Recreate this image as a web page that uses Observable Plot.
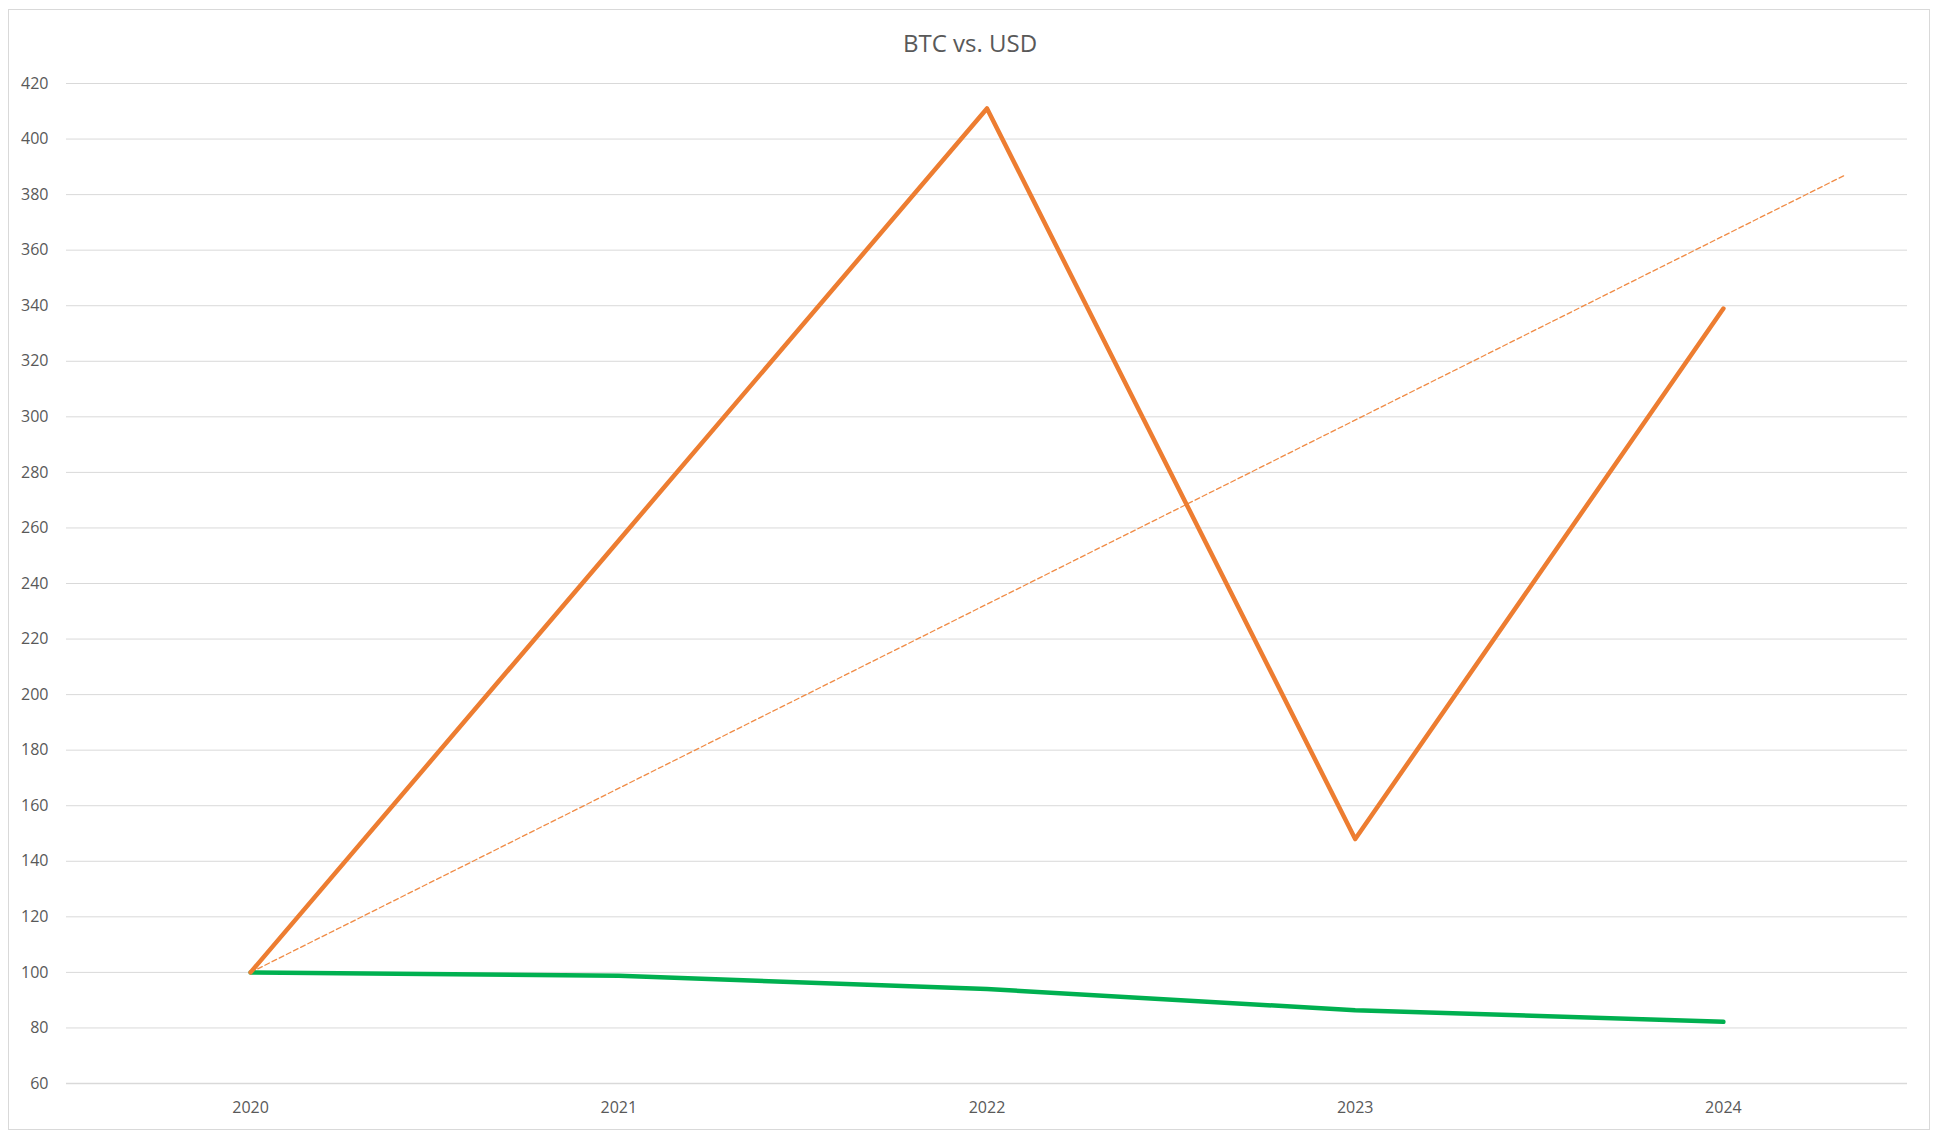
<!DOCTYPE html>
<html>
<head>
<meta charset="utf-8">
<script src="https://cdn.jsdelivr.net/npm/d3@7"></script>
<script src="https://cdn.jsdelivr.net/npm/@observablehq/plot@0.6"></script>
<style>
  html, body { margin: 0; padding: 0; background: #fff; }
  #frame { position: absolute; left: 8px; top: 9px; width: 1920px; height: 1119px; border: 1.5px solid #d9d9d9; box-sizing: content-box; }
  #title { position: absolute; left: 0; top: 28px; width: 1940px; text-align: center; font-family: "Open Sans", sans-serif; font-size: 24px; color: #595959; line-height: 30px; }
  #chart { position: absolute; left: 0; top: 65px; }
</style>
</head>
<body>
<div id="frame"></div>
<div id="title">BTC vs. USD</div>
<div id="chart"></div>
<script>
const years = [2020, 2021, 2022, 2023, 2024];
const btc = [100, 255.5, 411, 148, 339];
const usd = [100, 98.8, 94.0, 86.4, 82.2];
const trendYears = [2020, 2024.33];
const trendValues = [100, 387];
const yTicks = [60, 80, 100, 120, 140, 160, 180, 200, 220, 240, 260, 280, 300, 320, 340, 360, 380, 400, 420];

const btcData = years.map((y, i) => ({year: y, value: btc[i]}));
const usdData = years.map((y, i) => ({year: y, value: usd[i]}));
const trendData = trendYears.map((y, i) => ({year: y, value: trendValues[i]}));

const chart = Plot.plot({
  width: 1940,
  height: 1060,
  marginTop: 18,
  marginBottom: 42,
  marginLeft: 66,
  marginRight: 33,
  style: {fontFamily: "'Open Sans', sans-serif", fontSize: "16px", color: "#595959", background: "transparent"},
  x: {domain: [2019.5, 2024.5], ticks: years, tickFormat: d => String(d), tickSize: 0, tickPadding: 18, label: null},
  y: {domain: [60, 420], ticks: yTicks, tickSize: 0, tickPadding: 18, label: null},
  marks: [
    Plot.gridY(yTicks.filter(t => t > 60), {stroke: "#d9d9d9", strokeOpacity: 1, strokeWidth: 1}),
    Plot.ruleY([60], {stroke: "#d9d9d9", strokeWidth: 1.5}),
    Plot.axisX({ticks: years, tickFormat: d => String(d), tickSize: 0, tickPadding: 18, fill: "#595959"}),
    Plot.axisY({ticks: yTicks, tickSize: 0, tickPadding: 18, fill: "#595959"}),
    Plot.line(trendData, {x: "year", y: "value", stroke: "#F08B45", strokeWidth: 1.3, strokeDasharray: "5,3"}),
    Plot.line(usdData, {x: "year", y: "value", stroke: "#00B050", strokeWidth: 4.5, strokeLinecap: "round", strokeLinejoin: "round"}),
    Plot.line(btcData, {x: "year", y: "value", stroke: "#ED7D31", strokeWidth: 4.5, strokeLinecap: "round", strokeLinejoin: "round"})
  ]
});
document.getElementById("chart").appendChild(chart);
</script>
</body>
</html>
